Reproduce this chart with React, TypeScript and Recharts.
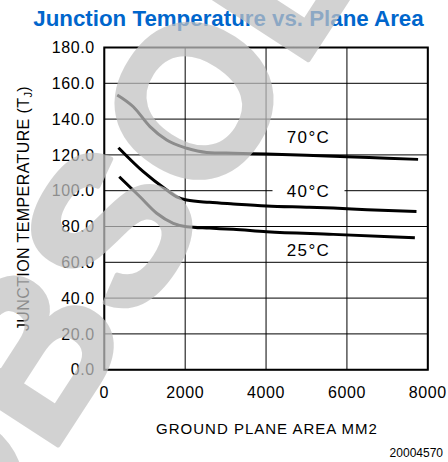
import React from 'react';
import { LineChart, Line, XAxis, YAxis, CartesianGrid, ReferenceArea, ReferenceDot } from 'recharts';

// Axis ticks
const xTicks = [0, 2000, 4000, 6000, 8000];
const yTicks = [0, 20, 40, 60, 80, 100, 120, 140, 160, 180];

// Ground plane area (mm2) / junction temperature readings per ambient
const area70 = [320, 717, 1130, 1543, 2038, 2532, 3200, 4000, 5000, 6000, 7000, 7760];
const temp70 = [153.5, 146.9, 135.8, 128.3, 123.7, 121.4, 120.9, 120.5, 119.8, 119.0, 118.1, 117.5];

const area40 = [350, 964, 1543, 1790, 2038, 2600, 3190, 4016, 5000, 5663, 6500, 7720];
const temp40 = [124.0, 110.6, 100.4, 96.6, 94.8, 93.5, 92.6, 91.5, 90.8, 90.3, 89.4, 88.4];

const area25 = [370, 883, 1296, 1706, 2038, 2600, 3190, 4016, 5663, 7680];
const temp25 = [107.8, 96.6, 87.4, 81.8, 79.9, 79.1, 78.4, 77.1, 75.6, 73.7];

// Curve label text and anchor (data coordinates)
const labelTexts = ['70°C', '40°C', '25°C'];
const labelX = [5050, 5050, 5050];
const labelY = [130, 100, 67];
const labelBoxed = [false, true, false];

const toSeries = (xs: number[], ys: number[]) => xs.map((x, i) => ({ x, y: ys[i] }));
const s70 = toSeries(area70, temp70);
const s40 = toSeries(area40, temp40);
const s25 = toSeries(area25, temp25);

const FONT = '"Liberation Sans", Arial, Helvetica, sans-serif';

const makeLabel = (text: string, boxed: boolean) => (props: any) => {
  const { cx, cy } = props;
  return (
    <g>
      {boxed && <rect x={cx - 36} y={cy - 10} width={72} height={20} fill="#fff" />}
      <text
        x={cx}
        y={cy}
        dy="0.36em"
        textAnchor="middle"
        fontFamily={FONT}
        fontSize={17}
        letterSpacing={1.4}
        fill="#000"
      >
        {text}
      </text>
    </g>
  );
};

export default function App() {
  return (
    <div style={{ position: 'absolute', left: 0, top: 0, width: 448, height: 462, background: '#fff' }}>
      <LineChart
        width={448}
        height={462}
        margin={{ top: 47.5, right: 20.2, bottom: 62.3, left: 0 }}
      >
        <CartesianGrid stroke="#000" strokeWidth={1} />
        <XAxis
          type="number"
          dataKey="x"
          domain={[0, 8000]}
          ticks={xTicks}
          allowDataOverflow
          height={30}
          axisLine={false}
          tickLine={false}
          tickMargin={11}
          tick={{ fontSize: 16, fill: '#000', fontFamily: FONT, letterSpacing: 0.6 }}
        />
        <YAxis
          type="number"
          domain={[0, 180]}
          ticks={yTicks}
          allowDataOverflow
          width={104.3}
          axisLine={false}
          tickLine={false}
          tickMargin={3.5}
          tickFormatter={(v: number) => v.toFixed(1)}
          tick={{ fontSize: 16, fill: '#000', fontFamily: FONT, letterSpacing: 0.6 }}
        />
        <ReferenceArea x1={0} x2={8000} y1={0} y2={180} fill="none" stroke="#000" strokeWidth={2} />
        <Line data={s70} dataKey="y" type="monotone" stroke="#000" strokeWidth={3} dot={false} isAnimationActive={false} />
        <Line data={s40} dataKey="y" type="monotone" stroke="#000" strokeWidth={3} dot={false} isAnimationActive={false} />
        <Line data={s25} dataKey="y" type="monotone" stroke="#000" strokeWidth={3} dot={false} isAnimationActive={false} />
        {labelTexts.map((t, i) => (
          <ReferenceDot key={t} x={labelX[i]} y={labelY[i]} r={0} shape={makeLabel(t, labelBoxed[i])} />
        ))}
      </LineChart>
      <svg
        width={448}
        height={462}
        style={{ position: 'absolute', left: 0, top: 0, pointerEvents: 'none' }}
      >
        <text x={228.5} y={26} textAnchor="middle" fontFamily={FONT} fontWeight="bold" fontSize={22.3} fill="#0066cc">
          Junction Temperature vs. Plane Area
        </text>
        <text x={267} y={434} textAnchor="middle" fontFamily={FONT} fontSize={15} letterSpacing={1} fill="#000">
          GROUND PLANE AREA MM2
        </text>
        <text transform="translate(28.5,208.5) rotate(-90)" textAnchor="middle" fontFamily={FONT} fontSize={16} letterSpacing={0.4} fill="#000">
          JUNCTION TEMPERATURE (T<tspan fontSize={11} dy={3}>J</tspan><tspan dy={-3}>)</tspan>
        </text>
        <text x={443} y={457} textAnchor="end" fontFamily={FONT} fontSize={12} fill="#000">
          20004570
        </text>
        <g opacity={0.72}>
          <text
            x={278}
            y={106}
            transform="rotate(-57 278 106)"
            textAnchor="middle"
            fontFamily={FONT}
            fontWeight="bold"
            fontSize={212}
            fill="rgb(194,194,194)"
            stroke="rgb(194,194,194)"
            strokeWidth={5}
            strokeLinejoin="round"
          >
            OBSOLETE
          </text>
        </g>
      </svg>
    </div>
  );
}
